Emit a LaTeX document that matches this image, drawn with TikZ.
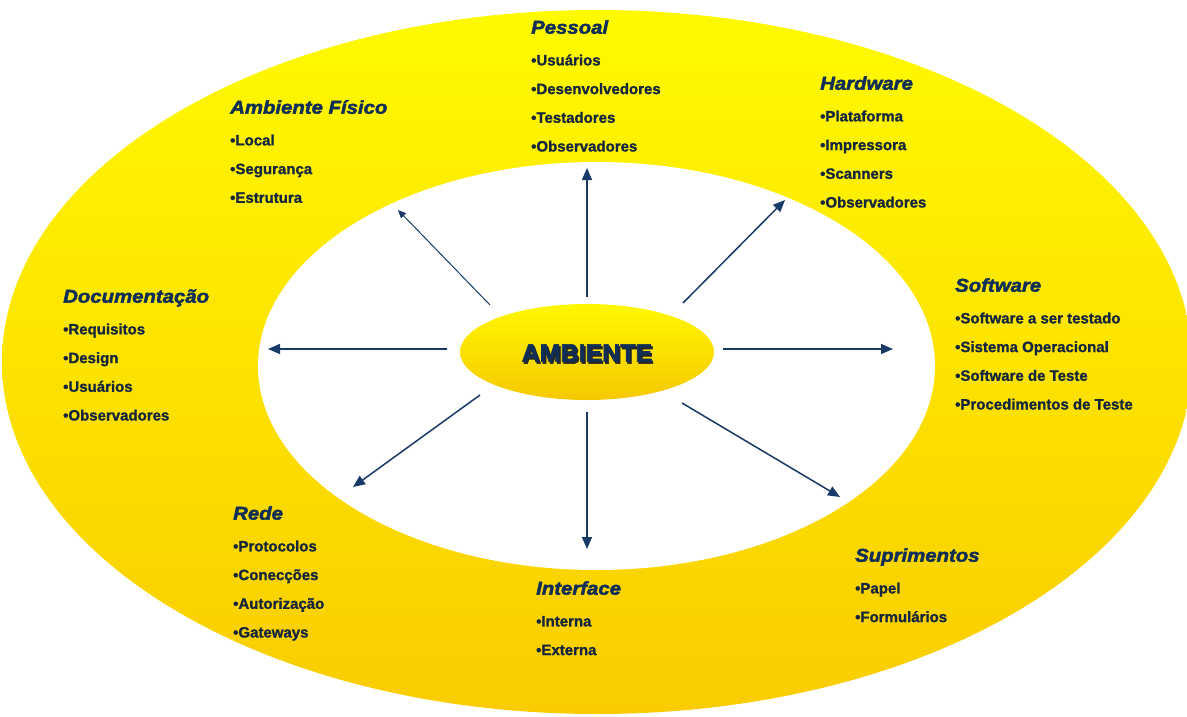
\documentclass[tikz,border=0pt]{standalone}
\usepackage{fontspec}
\setmainfont{Liberation Sans}
\newfontfamily\titlefont{Liberation Sans}[FakeStretch=1.1, FakeBold=2.4]
\newfontfamily\itemfont{Liberation Sans}[FakeBold=1.3]
\newfontfamily\hubfont{Liberation Sans}[FakeBold=2.5]
\usetikzlibrary{arrows.meta}

\definecolor{ringtop}{RGB}{255,250,0}
\definecolor{ringbottom}{RGB}{250,204,0}
\definecolor{hubtop}{RGB}{255,248,0}
\definecolor{hubbottom}{RGB}{246,200,0}
\definecolor{titlenavy}{RGB}{16,46,86}
\definecolor{itemnavy}{RGB}{22,38,60}
\definecolor{arrownavy}{RGB}{24,58,104}

\tikzset{
  topictitle/.style={anchor=base west, inner sep=0pt, text=titlenavy,
    font=\titlefont\bfseries\itshape\fontsize{18.5}{20}\selectfont},
  topicitem/.style={anchor=base west, inner sep=0pt, text=itemnavy,
    font=\itemfont\bfseries\fontsize{15}{17}\selectfont},
  spoke/.style={draw=arrownavy, line width=1.5pt,
    -{Triangle[length=12pt,width=10pt]}},
  thinspoke/.style={draw=arrownavy, line width=1pt,
    -{Triangle[length=8pt,width=7pt]}},
}

% title centred at (x,y); items listed below it
\newcommand{\topicblock}[5]{%
  \node[topictitle] (#1) at ({#2},{#3+6.7}) {#4};
  \foreach \entry [count=\k] in {#5}
    \node[topicitem] (#1-\k) at ({#2},{#3+33+(\k-1)*28.7+5.4}) {•\entry};
}

\begin{document}
\begin{tikzpicture}[x=1pt,y=-1pt]
  \useasboundingbox (0,0) rectangle (1187,717);
  \clip (0,0) rectangle (1187,717);

  % outer ring and inner white field
  \shade[top color=ringtop, bottom color=ringbottom]
    (597,362) ellipse [x radius=595, y radius=352];
  \fill[white] (596.5,366) ellipse [x radius=338.5, y radius=204];

  % central hub
  \shade[top color=hubtop, bottom color=hubbottom]
    (587,352) ellipse [x radius=127, y radius=48];
  \node[inner sep=0pt, text=black!85, font=\hubfont\bfseries\fontsize{25}{27}\selectfont]
    at (588.5,355) {AMBIENTE};
  \node (hub) [inner sep=0pt, text=titlenavy, font=\hubfont\bfseries\fontsize{25}{27}\selectfont]
    at (587,353) {AMBIENTE};

  % spoke end points
  \coordinate (nS) at (587,297);  \coordinate (nE) at (587,168);
  \coordinate (sS) at (587,412);  \coordinate (sE) at (587,549);
  \coordinate (wS) at (447,349);  \coordinate (wE) at (268,349);
  \coordinate (eS) at (723,349);  \coordinate (eE) at (893,349);
  \coordinate (nwS) at (490,305); \coordinate (nwE) at (398,210);
  \coordinate (neS) at (683,303); \coordinate (neE) at (785,200);
  \coordinate (swS) at (480,395); \coordinate (swE) at (353,487);
  \coordinate (seS) at (682,403); \coordinate (seE) at (840,497);

  \draw[spoke] (nS) -- (nE);
  \draw[spoke] (sS) -- (sE);
  \draw[spoke] (wS) -- (wE);
  \draw[spoke] (eS) -- (eE);
  \draw[thinspoke] (nwS) -- (nwE);
  \draw[spoke] (neS) -- (neE);
  \draw[spoke] (swS) -- (swE);
  \draw[spoke] (seS) -- (seE);

  % topic blocks
  \topicblock{pessoal}{531}{27}{Pessoal}{Usuários,Desenvolvedores,Testadores,Observadores}
  \topicblock{fisico}{230}{107}{Ambiente Físico}{Local,Segurança,Estrutura}
  \topicblock{hardware}{820}{83}{Hardware}{Plataforma,Impressora,Scanners,Observadores}
  \topicblock{software}{955}{285}{Software}{Software a ser testado,Sistema Operacional,Software de Teste,Procedimentos de Teste}
  \topicblock{docs}{63}{296}{Documentação}{Requisitos,Design,Usuários,Observadores}
  \topicblock{rede}{233}{513}{Rede}{Protocolos,Conecções,Autorização,Gateways}
  \topicblock{interface}{536}{588}{Interface}{Interna,Externa}
  \topicblock{suprimentos}{855}{555}{Suprimentos}{Papel,Formulários}
\end{tikzpicture}
\end{document}
